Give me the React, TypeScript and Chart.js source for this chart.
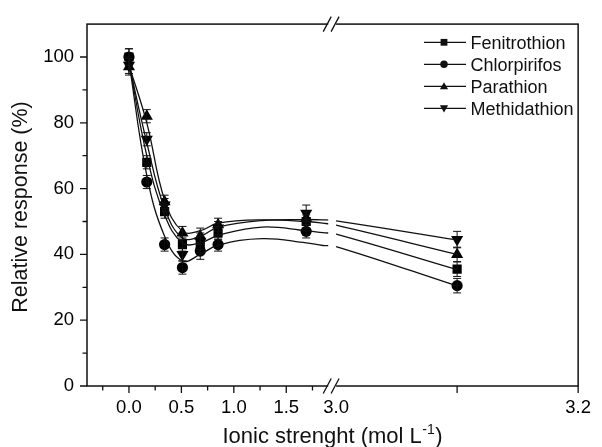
import React, { useEffect, useRef } from 'react';
import { Chart, registerables, LinearScale } from 'chart.js';

Chart.register(...registerables);

// ---------- data ----------
const seriesNames = ['Fenitrothion', 'Chlorpirifos', 'Parathion', 'Methidathion'];
const ionicStrength = [0, 0.17, 0.34, 0.51, 0.68, 0.85, 1.69, 3.1];
const fenitrothion = [100, 68, 53, 43, 43, 46.5, 50, 35.5];
const chlorpirifos = [100, 62, 43, 36, 41, 43, 47, 30.5];
const parathion = [97, 82, 56, 46.5, 45.5, 49, 51, 40];
const methidathion = [97.5, 75, 55, 40, 44, 48, 52.5, 44.5];

const fenitrothionErr = [2.5, 2, 2, 2, 2.5, 2, 2, 2.2];
const chlorpirifosErr = [2.5, 2, 2, 2, 2.5, 2, 2, 2.2];
const parathionErr = [2.5, 2, 2, 2, 2.5, 2, 2, 2.2];
const methidathionErr = [2.5, 2, 2, 2, 2.5, 2, 2.5, 2.5];

// fitted curves
const fitStrength = [0, 0.17, 0.34, 0.51, 0.68, 0.85, 1.27, 1.69, 1.85, 3.0, 3.1];
const fenitrothionFit = [98.5, 70, 52, 43.5, 43.5, 45.8, 48.3, 47.2, 46.6, 46.2, 35.4];
const chlorpirifosFit = [98.5, 64, 45.5, 38, 40, 42.8, 44.8, 43.5, 42.7, 42.4, 30.4];
const parathionFit = [97.5, 80, 56.5, 47, 47.2, 49.5, 50.5, 50, 49.5, 48.9, 40];
const methidathionFit = [98, 74, 54, 45, 45.5, 48.3, 50.3, 50.6, 50.5, 50.2, 44.4];

const xTickValues = [-0.25, 0, 0.25, 0.5, 0.75, 1.0, 1.25, 1.5, 1.75, 3.0, 3.1, 3.2];
const xLabelled = [0, 0.5, 1.0, 1.5, 3.0, 3.2];
const xMajorTicks = [0, 0.5, 1.0, 1.5, 3.1, 3.2];
const xMinorTicks = [-0.25, 0.25, 0.75, 1.25, 1.75];
const yMajorTicks = [0, 20, 40, 60, 80, 100];
const yMinorTicks = [10, 30, 50, 70, 90];

const X_MIN = -0.4;
const X_MAX = 3.2;
const BREAK_LO = 1.9;
const BREAK_HI = 3.0;

// ---------- broken axis ----------
const U_HI = 1.975;
const STRETCH = 11.54;
function toU(v: number) {
  if (v <= BREAK_LO) return v;
  if (v >= BREAK_HI) return U_HI + (v - BREAK_HI) * STRETCH;
  return BREAK_LO + ((v - BREAK_LO) / (BREAK_HI - BREAK_LO)) * (U_HI - BREAK_LO);
}
function fromU(u: number) {
  if (u <= BREAK_LO) return u;
  if (u >= U_HI) return BREAK_HI + (u - U_HI) / STRETCH;
  return BREAK_LO + ((u - BREAK_LO) / (U_HI - BREAK_LO)) * (BREAK_HI - BREAK_LO);
}

class BrokenScale extends LinearScale {
  static id = 'broken';
  static defaults = LinearScale.defaults;
  getPixelForValue(value: any) {
    if (value === null || value === undefined) return NaN;
    return super.getPixelForValue(toU(value));
  }
  getValueForPixel(pixel: number) {
    return fromU(super.getValueForPixel(pixel) as number);
  }
}
Chart.register(BrokenScale as any);

const FONT = '"Liberation Sans", Arial, sans-serif';
const INK = '#111';

const styles = [
  { style: 'rect', radius: 6.5, rotation: 0 },
  { style: 'circle', radius: 5.6, rotation: 0 },
  { style: 'triangle', radius: 7, rotation: 0 },
  { style: 'triangle', radius: 7, rotation: 180 },
];

function drawMarker(ctx: CanvasRenderingContext2D, kind: number, x: number, y: number, s: number) {
  ctx.beginPath();
  if (kind === 0) {
    ctx.rect(x - s, y - s, 2 * s, 2 * s);
  } else if (kind === 1) {
    ctx.arc(x, y, s * 1.1, 0, Math.PI * 2);
  } else if (kind === 2) {
    ctx.moveTo(x, y - s * 1.2);
    ctx.lineTo(x + s * 1.2, y + s * 0.9);
    ctx.lineTo(x - s * 1.2, y + s * 0.9);
    ctx.closePath();
  } else {
    ctx.moveTo(x, y + s * 1.2);
    ctx.lineTo(x + s * 1.2, y - s * 0.9);
    ctx.lineTo(x - s * 1.2, y - s * 0.9);
    ctx.closePath();
  }
  ctx.fill();
}

const decorPlugin = {
  id: 'decor',
  afterDatasetsDraw(chart: any) {
    const ctx: CanvasRenderingContext2D = chart.ctx;
    const xs = chart.scales.x;
    const ys = chart.scales.y;
    const ca = chart.chartArea;
    ctx.save();
    // error bars
    chart.data.datasets.forEach((ds: any, i: number) => {
      if (!ds.errors) return;
      const meta = chart.getDatasetMeta(i);
      meta.data.forEach((el: any, j: number) => {
        const v = ds.data[j].y;
        const e = ds.errors[j];
        const yt = ys.getPixelForValue(v + e);
        const yb = ys.getPixelForValue(v - e);
        ctx.strokeStyle = INK;
        ctx.lineWidth = 1;
        ctx.beginPath();
        ctx.moveTo(el.x, yt);
        ctx.lineTo(el.x, yb);
        ctx.moveTo(el.x - 4, yt);
        ctx.lineTo(el.x + 4, yt);
        ctx.moveTo(el.x - 4, yb);
        ctx.lineTo(el.x + 4, yb);
        ctx.stroke();
      });
    });

    // frame
    ctx.strokeStyle = INK;
    ctx.lineWidth = 1.5;
    ctx.strokeRect(ca.left, ca.top, ca.right - ca.left, ca.bottom - ca.top);

    // ticks
    ctx.lineWidth = 1.3;
    ctx.beginPath();
    yMajorTicks.forEach((v) => {
      const p = ys.getPixelForValue(v);
      ctx.moveTo(ca.left, p);
      ctx.lineTo(ca.left - 7, p);
    });
    yMinorTicks.forEach((v) => {
      const p = ys.getPixelForValue(v);
      ctx.moveTo(ca.left, p);
      ctx.lineTo(ca.left - 4.5, p);
    });
    xMajorTicks.forEach((v) => {
      const p = xs.getPixelForValue(v);
      ctx.moveTo(p, ca.bottom);
      ctx.lineTo(p, ca.bottom + 7);
    });
    xMinorTicks.forEach((v) => {
      const p = xs.getPixelForValue(v);
      ctx.moveTo(p, ca.bottom);
      ctx.lineTo(p, ca.bottom + 4.5);
    });
    ctx.stroke();

    // axis break
    const g1 = xs.getPixelForValue(BREAK_LO);
    const g2 = xs.getPixelForValue(BREAK_HI);
    ctx.fillStyle = '#fff';
    ctx.fillRect(g1, ca.top - 2, g2 - g1, ca.bottom - ca.top + 4);
    ctx.strokeStyle = INK;
    ctx.lineWidth = 1.3;
    ctx.beginPath();
    [ca.top, ca.bottom].forEach((yy) => {
      [g1 - 1, g2 - 1].forEach((cx) => {
        ctx.moveTo(cx - 4, yy + 7.5);
        ctx.lineTo(cx + 4, yy - 7.5);
      });
    });
    ctx.stroke();

    // legend
    ctx.fillStyle = INK;
    ctx.font = `18px ${FONT}`;
    ctx.textBaseline = 'alphabetic';
    ctx.textAlign = 'left';
    seriesNames.forEach((name, i) => {
      const cy = 42.3 + i * 22;
      ctx.strokeStyle = INK;
      ctx.lineWidth = 1.2;
      ctx.beginPath();
      ctx.moveTo(424, cy);
      ctx.lineTo(466, cy);
      ctx.stroke();
      drawMarker(ctx, i, 444, cy, 3.4);
      ctx.fillText(name, 470.5, cy + 6.3);
    });

    // x title
    const mainTxt = 'Ionic strenght (mol L';
    const supTxt = '-1';
    const endTxt = ')';
    ctx.font = `22px ${FONT}`;
    const w1 = ctx.measureText(mainTxt).width;
    const w3 = ctx.measureText(endTxt).width;
    ctx.font = `14px ${FONT}`;
    const w2 = ctx.measureText(supTxt).width;
    const total = w1 + w2 + w3 + 1;
    const cx = 332.5;
    const x0 = cx - total / 2;
    const by = 443;
    ctx.font = `22px ${FONT}`;
    ctx.fillText(mainTxt, x0, by);
    ctx.font = `14px ${FONT}`;
    ctx.fillText(supTxt, x0 + w1 + 0.5, by - 9.5);
    ctx.font = `22px ${FONT}`;
    ctx.fillText(endTxt, x0 + w1 + w2 + 1, by);

    // y title
    ctx.save();
    ctx.translate(27, 207);
    ctx.rotate(-Math.PI / 2);
    ctx.textAlign = 'center';
    ctx.font = `21.5px ${FONT}`;
    ctx.fillText('Relative response (%)', 0, 0);
    ctx.restore();

    ctx.restore();
  },
};

function pts(xv: number[], yv: number[]) {
  return xv.map((x, i) => ({ x, y: yv[i] }));
}

export default function App() {
  const ref = useRef<HTMLCanvasElement | null>(null);
  useEffect(() => {
    document.body.style.margin = '0';
    const canvas = ref.current!;
    const seriesVals = [fenitrothion, chlorpirifos, parathion, methidathion];
    const seriesErrs = [fenitrothionErr, chlorpirifosErr, parathionErr, methidathionErr];
    const seriesFits = [fenitrothionFit, chlorpirifosFit, parathionFit, methidathionFit];
    const datasets: any[] = [];
    seriesNames.forEach((name, i) => {
      datasets.push({
        label: name + ' fit',
        data: pts(fitStrength, seriesFits[i]),
        borderColor: INK,
        borderWidth: 1.3,
        pointRadius: 0,
        tension: 0.4,
        fill: false,
      });
    });
    seriesNames.forEach((name, i) => {
      datasets.push({
        label: name,
        data: pts(ionicStrength, seriesVals[i]),
        errors: seriesErrs[i],
        showLine: false,
        pointStyle: styles[i].style,
        pointRadius: styles[i].radius,
        rotation: styles[i].rotation,
        pointBackgroundColor: '#000',
        pointBorderColor: '#000',
        pointBorderWidth: 0,
      });
    });
    const chart = new Chart(canvas, {
      type: 'line',
      data: { datasets },
      plugins: [decorPlugin],
      options: {
        animation: false,
        responsive: false,
        events: [],
        layout: { padding: { top: 20, right: 15, left: 0, bottom: 0 } },
        plugins: { legend: { display: false }, tooltip: { enabled: false } },
        scales: {
          x: {
            type: 'broken' as any,
            min: toU(X_MIN),
            max: toU(X_MAX),
            grid: { display: false, drawTicks: false },
            border: { display: false },
            afterBuildTicks: (scale: any) => {
              scale.ticks = xTickValues.map((v) => ({ value: v }));
            },
            afterFit: (scale: any) => {
              scale.height = 61;
            },
            ticks: {
              autoSkip: false,
              maxRotation: 0,
              padding: 11,
              color: '#000',
              font: { family: FONT, size: 18.5 },
              callback: (v: any) => {
                const n = Number(v);
                return xLabelled.some((t) => Math.abs(t - n) < 1e-6) ? n.toFixed(1) : '';
              },
            },
          },
          y: {
            type: 'linear',
            min: 0,
            max: 110,
            grid: { display: false, drawTicks: false },
            border: { display: false },
            afterFit: (scale: any) => {
              scale.width = 87;
            },
            ticks: {
              stepSize: 10,
              autoSkip: false,
              padding: 13,
              color: '#000',
              font: { family: FONT, size: 18.5 },
              callback: (v: any) => (yMajorTicks.includes(Number(v)) ? String(v) : ''),
            },
          },
        },
      } as any,
    });
    return () => chart.destroy();
  }, []);
  return <canvas ref={ref} width={602} height={447} style={{ display: 'block' }} />;
}
